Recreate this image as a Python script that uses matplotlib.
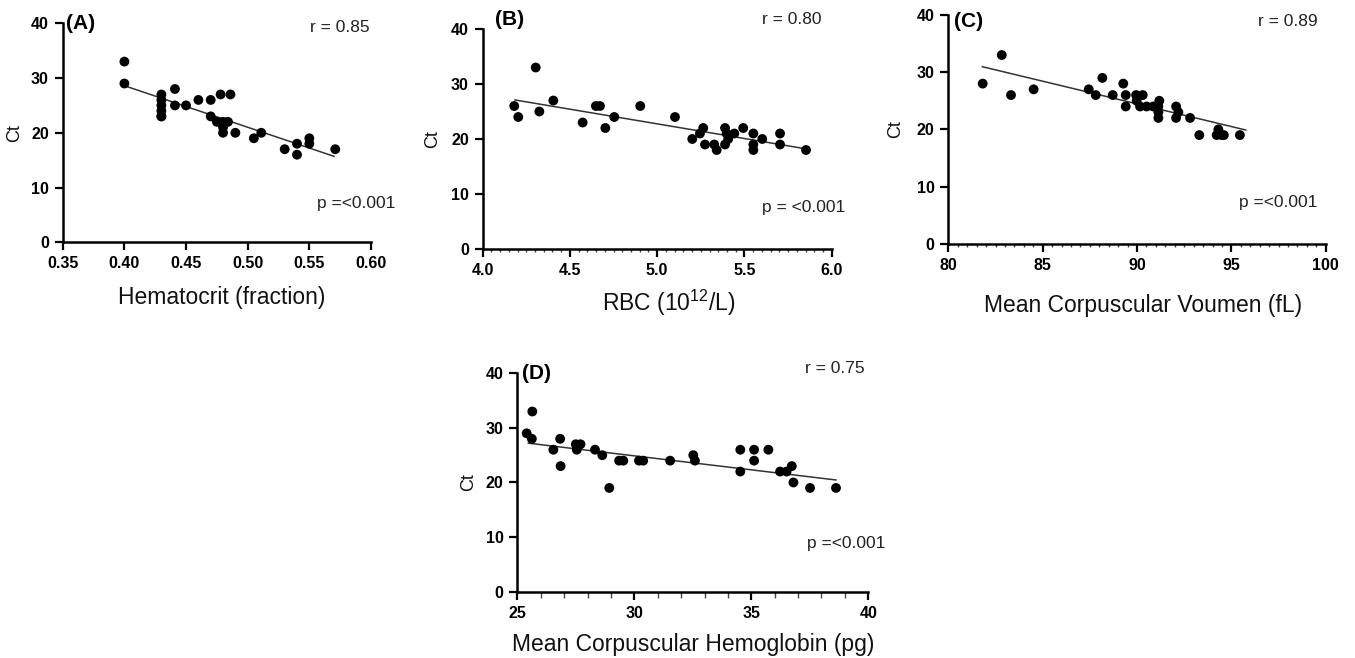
import matplotlib
matplotlib.use("Agg")
import matplotlib.pyplot as plt
from matplotlib.ticker import MultipleLocator, FormatStrFormatter

plt.rcParams['font.family'] = ['Liberation Sans', 'DejaVu Sans']
plt.rcParams['mathtext.fontset'] = 'custom'
plt.rcParams['mathtext.rm'] = 'Liberation Sans'

# ---------------- data ----------------
a_x = [0.40, 0.40, 0.43, 0.43, 0.43, 0.43, 0.43, 0.43, 0.441, 0.441, 0.450, 0.460,
       0.470, 0.470, 0.478, 0.486, 0.475, 0.480, 0.484, 0.480, 0.480, 0.490,
       0.505, 0.511, 0.530, 0.540, 0.540, 0.550, 0.550, 0.571]
a_y = [33, 29, 27, 26, 25, 24, 23, 23, 28, 25, 25, 26,
       26, 23, 27, 27, 22, 22, 22, 21, 20, 20,
       19, 20, 17, 18, 16, 19, 18, 17]
a_fit_x = [0.40, 0.57]
a_fit_y = [28.6, 15.7]

b_x = [4.181, 4.204, 4.304, 4.325, 4.405, 4.573, 4.649, 4.672, 4.703, 4.754,
       4.903, 5.102, 5.201, 5.245, 5.264, 5.274, 5.327, 5.341, 5.389, 5.398,
       5.407, 5.389, 5.442, 5.493, 5.551, 5.551, 5.551, 5.602, 5.704, 5.704, 5.853]
b_y = [26, 24, 33, 25, 27, 23, 26, 26, 22, 24,
       26, 24, 20, 21, 22, 19, 19, 18, 22, 21,
       20, 19, 21, 22, 21, 19, 18, 20, 21, 19, 18]
b_fit_x = [4.185, 5.847]
b_fit_y = [27.1, 18.24]

c_x = [81.82, 82.83, 83.32, 84.52, 87.44, 87.81, 88.16, 88.71, 89.27, 89.40,
       89.40, 89.95, 90.30, 89.98, 90.16, 90.51, 90.86, 91.18, 91.13, 91.13,
       91.13, 92.07, 92.19, 92.07, 92.81, 93.30, 94.31, 94.49, 94.22, 94.60, 95.45]
c_y = [28, 33, 26, 27, 27, 26, 29, 26, 28, 26,
       24, 26, 26, 25, 24, 24, 24, 25, 24, 23,
       22, 24, 23, 22, 22, 19, 20, 19, 19, 19, 19]
c_fit_x = [81.8, 95.76]
c_fit_y = [30.96, 19.89]

d_x = [25.40, 25.64, 25.62, 26.54, 26.83, 26.85, 27.50, 27.70, 27.54, 28.32,
       28.63, 28.93, 29.35, 29.53, 30.20, 30.38, 31.53, 32.52, 32.59, 34.53,
       34.53, 35.12, 35.12, 35.73, 36.23, 36.51, 36.73, 36.80, 37.51, 38.62]
d_y = [29, 33, 28, 26, 28, 23, 27, 27, 26, 26,
       25, 19, 24, 24, 24, 24, 24, 25, 24, 26,
       22, 26, 24, 26, 22, 22, 23, 20, 19, 19]
d_fit_x = [25.47, 38.62]
d_fit_y = [27.2, 20.46]

panels = [
    dict(x=a_x, y=a_y, fx=a_fit_x, fy=a_fit_y, label="(A)", r="r = 0.85", p="p =<0.001",
         xlabel="Hematocrit (fraction)", xlim=(0.35, 0.60), xmaj=0.05, xmin=None, fmt="%.2f",
         pos=[0.0463, 0.6318, 0.2275, 0.3328], lab_xy=(0.353, 40.0), r_xy=(0.5746, 39.3),
         p_xy=(0.588, 7.0), ylab=(-0.155, 0.5), xlab=(0.516, -0.252)),
    dict(x=b_x, y=b_y, fx=b_fit_x, fy=b_fit_y, label="(B)", r="r = 0.80", p="p = <0.001",
         xlabel="RBC (10$^{12}$/L)", xlim=(4.0, 6.0), xmaj=0.5, xmin=0.05, fmt="%.1f",
         pos=[0.3562, 0.6216, 0.2576, 0.3343], lab_xy=(4.07, 41.8), r_xy=(5.77, 41.8),
         p_xy=(5.84, 7.5), ylab=(-0.142, 0.5), xlab=(0.534, -0.247)),
    dict(x=c_x, y=c_y, fx=c_fit_x, fy=c_fit_y, label="(C)", r="r = 0.89", p="p =<0.001",
         xlabel="Mean Corpuscular Voumen (fL)", xlim=(80, 100), xmaj=5, xmin=0.5, fmt="%d",
         pos=[0.6999, 0.6296, 0.2785, 0.3476], lab_xy=(80.3, 38.8), r_xy=(98.0, 38.8),
         p_xy=(97.5, 7.2), ylab=(-0.141, 0.5), xlab=(0.515, -0.268)),
    dict(x=d_x, y=d_y, fx=d_fit_x, fy=d_fit_y, label="(D)", r="r = 0.75", p="p =<0.001",
         xlabel="Mean Corpuscular Hemoglobin (pg)", xlim=(25, 40), xmaj=5, xmin=1, fmt="%d",
         pos=[0.3818, 0.1008, 0.2590, 0.3319], lab_xy=(25.2, 40.0), r_xy=(38.57, 40.8),
         p_xy=(39.05, 8.9), ylab=(-0.14, 0.5), xlab=(0.501, -0.244)),
]

fig = plt.figure(figsize=(13.55, 6.58), dpi=100)

for pn in panels:
    ax = fig.add_axes(pn['pos'])
    ax.plot(pn['fx'], pn['fy'], color='#333333', lw=1.1, zorder=2, clip_on=False)
    ax.scatter(pn['x'], pn['y'], s=50, color='black', edgecolors='none', zorder=3, clip_on=False)
    ax.set_xlim(*pn['xlim'])
    ax.set_ylim(0, 40)
    for side in ('top', 'right'):
        ax.spines[side].set_visible(False)
    for side in ('left', 'bottom'):
        ax.spines[side].set_linewidth(1.8)
    ax.xaxis.set_major_locator(MultipleLocator(pn['xmaj']))
    ax.xaxis.set_major_formatter(FormatStrFormatter(pn['fmt']))
    ax.yaxis.set_major_locator(MultipleLocator(10))
    if pn['xmin'] is not None:
        ax.xaxis.set_minor_locator(MultipleLocator(pn['xmin']))
        mlen = 4 if pn['xmin'] == 1 else 2
        ax.tick_params(axis='x', which='minor', length=mlen, width=1.0, color='#444444')
    ax.tick_params(which='major', length=6, width=1.6, labelsize=11.5, pad=4)
    for lbl in ax.get_xticklabels() + ax.get_yticklabels():
        lbl.set_fontweight('bold')
    ax.set_xlabel(pn['xlabel'], fontsize=16.5, color='#111111')
    ax.xaxis.set_label_coords(*pn['xlab'])
    ax.xaxis.label.set_va('center')
    ax.set_ylabel("Ct", fontsize=13, color='#111111')
    ax.yaxis.set_label_coords(*pn['ylab'])
    ax.yaxis.label.set_va('center')
    ax.text(pn['lab_xy'][0], pn['lab_xy'][1], pn['label'], fontsize=15, fontweight='bold',
            ha='left', va='center')
    ax.text(pn['r_xy'][0], pn['r_xy'][1], pn['r'], fontsize=12.5, color='#222222',
            ha='center', va='center')
    ax.text(pn['p_xy'][0], pn['p_xy'][1], pn['p'], fontsize=12.5, color='#222222',
            ha='center', va='center')

fig.savefig("out.png", dpi=100)
